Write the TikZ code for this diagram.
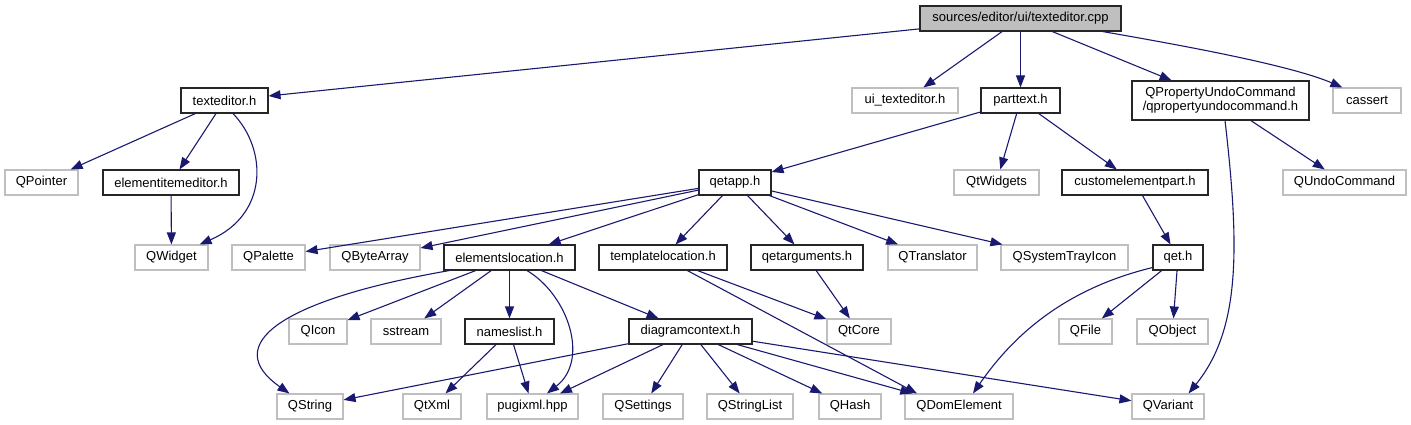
\documentclass[tikz,border=0pt]{standalone}
\usepackage{fontspec}
\setmainfont{Liberation Sans}
\usetikzlibrary{arrows.meta,calc}
\definecolor{edgeblue}{HTML}{191970}
\definecolor{extgray}{HTML}{BFBFBF}
\tikzset{
  base/.style={rectangle, inner sep=0pt, minimum height=25pt, line width=1.1pt,
    font=\fontsize{13}{14}\selectfont, text=black},
  doc/.style={base, draw=black!85, fill=white},
  ext/.style={base, draw=extgray, fill=white},
  rootbox/.style={base, draw=black!85, fill=extgray},
  dep/.style={draw=edgeblue, line width=1.1pt, -{Triangle[length=12pt,width=9pt]}},
}
\begin{document}
\begin{tikzpicture}[x=1pt,y=-1pt]
\useasboundingbox (0,0) rectangle (1411,425);
% row 0
\node[rootbox, minimum width=201pt] (root) at (1020.5,18.5) {sources/editor/ui/texteditor.cpp};
% row 1
\node[doc, minimum width=87pt] (te) at (224.5,100.5) {texteditor.h};
\node[ext, minimum width=106pt] (ui) at (905,100.5) {ui\_texteditor.h};
\node[doc, minimum width=79pt] (pt) at (1020.5,100.5) {parttext.h};
\node[doc, minimum width=177pt, minimum height=39pt, align=center] (puc) at (1220.5,100.5) {QPropertyUndoCommand\\/qpropertyundocommand.h};
\node[ext, minimum width=68pt] (ca) at (1367,100.5) {cassert};
% row 2
\node[ext, minimum width=73pt] (qp) at (41.5,182.5) {QPointer};
\node[doc, minimum width=136pt] (eie) at (171,182.5) {elementitemeditor.h};
\node[doc, minimum width=72pt] (qa) at (735,182.5) {qetapp.h};
\node[ext, minimum width=85pt] (qtw) at (996.5,182.5) {QtWidgets};
\node[doc, minimum width=146pt] (cep) at (1135,182.5) {customelementpart.h};
\node[ext, minimum width=123pt] (quc) at (1344.5,182.5) {QUndoCommand};
% row 3
\node[ext, minimum width=73pt] (qw) at (171.5,257.5) {QWidget};
\node[ext, minimum width=73pt] (qpal) at (268.5,257.5) {QPalette};
\node[ext, minimum width=90pt] (qba) at (375,257.5) {QByteArray};
\node[doc, minimum width=131pt] (el) at (509.5,257.5) {elementslocation.h};
\node[doc, minimum width=128pt] (tl) at (663,257.5) {templatelocation.h};
\node[doc, minimum width=112pt] (qarg) at (807,257.5) {qetarguments.h};
\node[ext, minimum width=89pt] (qtr) at (932.5,257.5) {QTranslator};
\node[ext, minimum width=127pt] (qsti) at (1064.5,257.5) {QSystemTrayIcon};
\node[doc, minimum width=50pt] (qet) at (1178,257.5) {qet.h};
% row 4
\node[ext, minimum width=58pt] (qic) at (318,331.5) {QIcon};
\node[ext, minimum width=70pt] (ss) at (406,331.5) {sstream};
\node[doc, minimum width=89pt] (nl) at (509.5,331.5) {nameslist.h};
\node[doc, minimum width=123pt] (dc) at (690.5,331.5) {diagramcontext.h};
\node[ext, minimum width=64pt] (qtc) at (859,331.5) {QtCore};
\node[ext, minimum width=53pt] (qf) at (1085.5,331.5) {QFile};
\node[ext, minimum width=71pt] (qo) at (1172.5,331.5) {QObject};
% row 5
\node[ext, minimum width=66pt] (qs) at (310,406.5) {QString};
\node[ext, minimum width=58pt] (qx) at (432,406.5) {QtXml};
\node[ext, minimum width=91pt] (pug) at (532.5,406.5) {pugixml.hpp};
\node[ext, minimum width=80pt] (qset) at (643,406.5) {QSettings};
\node[ext, minimum width=86pt] (qsl) at (750,406.5) {QStringList};
\node[ext, minimum width=62pt] (qh) at (850,406.5) {QHash};
\node[ext, minimum width=108pt] (qd) at (959,406.5) {QDomElement};
\node[ext, minimum width=72pt] (qv) at (1168,406.5) {QVariant};

% edges from root
\draw[dep] (root) -- (te);
\draw[dep] (root) -- (ui);
\draw[dep] (root) -- (pt);
\draw[dep] (root) -- (puc);
\draw[dep] ($(root.south east)+(-19,0)$) .. controls (1180,45) and (1290,65) .. ($(ca.north west)+(10,0)$);
% texteditor.h
\draw[dep] (te) -- (qp);
\draw[dep] (te) -- (eie);
\draw[dep] ($(te.south)+(8.5,0)$) .. controls (268,150) and (268,215) .. ($(qw.north east)+(-9,0)$);
\draw[dep] (eie) -- (qw);
% parttext.h
\draw[dep] (pt) -- (qa);
\draw[dep] (pt) -- (qtw);
\draw[dep] (pt) -- (cep);
% QPropertyUndoCommand
\draw[dep] (puc) -- (quc);
\draw[dep] ($(puc.south)+(4.5,0)$) .. controls (1240,250) and (1240,330) .. ($(qv.north east)+(-16,0)$);
% customelementpart.h
\draw[dep] (cep) -- (qet);
% qetapp.h
\draw[dep] (qa) -- (qpal);
\draw[dep] (qa) -- (qba);
\draw[dep] (qa) -- (el);
\draw[dep] (qa) -- (tl);
\draw[dep] (qa) -- (qarg);
\draw[dep] (qa) -- (qtr);
\draw[dep] (qa) -- ($(qsti.north west)+(2,0)$);
% elementslocation.h
\draw[dep] ($(el.south west)+(6,0)$) .. controls (280,300) and (220,345) .. ($(qs.north west)+(13,0)$);
\draw[dep] (el) -- (qic);
\draw[dep] (el) -- (ss);
\draw[dep] (el) -- (nl);
\draw[dep] ($(el.south)+(17.5,0)$) .. controls (568,295) and (590,360) .. ($(pug.north)+(14.5,0)$);
\draw[dep] (el) -- (dc);
% templatelocation.h
\draw[dep] (tl) -- (qtc);
\draw[dep] (tl) -- ($(qd.north)+(-42,0)$);
% qetarguments.h
\draw[dep] (qarg) -- (qtc);
% qet.h
\draw[dep] ($(qet.south west)+(0,-3)$) .. controls (1060,290) and (1010,340) .. ($(qd.north)+(14,0)$);
\draw[dep] (qet) -- (qf);
\draw[dep] (qet) -- (qo);
% nameslist.h
\draw[dep] (nl) -- (qx);
\draw[dep] (nl) -- (pug);
% diagramcontext.h
\draw[dep] (dc) -- (qs);
\draw[dep] (dc) -- (pug);
\draw[dep] (dc) -- (qset);
\draw[dep] (dc) -- (qsl);
\draw[dep] (dc) -- (qh);
\draw[dep] (dc) -- (qd);
\draw[dep] (dc) -- (qv);
\end{tikzpicture}
\end{document}
